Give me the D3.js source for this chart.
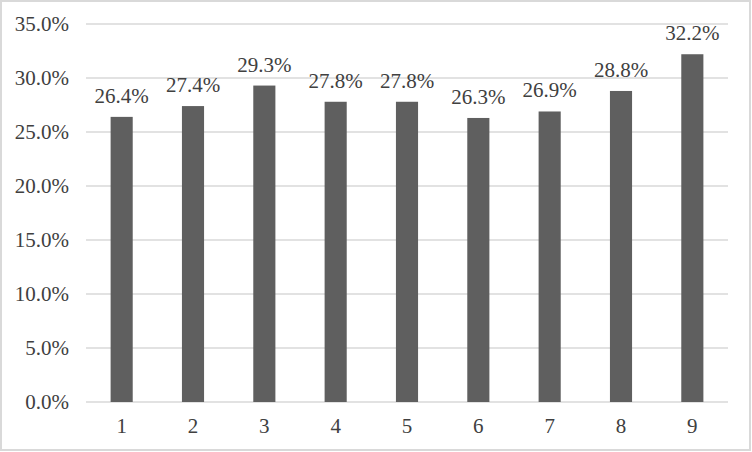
<!DOCTYPE html>
<html><head><meta charset="utf-8">
<script src="https://cdn.jsdelivr.net/npm/d3@7"></script>
<style>html,body{margin:0;padding:0;background:#fff;}</style>
</head><body>
<script>
const categories = ["1","2","3","4","5","6","7","8","9"];
const values = [26.4, 27.4, 29.3, 27.8, 27.8, 26.3, 26.9, 28.8, 32.2];
const yTicks = [0, 5, 10, 15, 20, 25, 30, 35];

const W = 752, H = 452;
const m = {left: 86, right: 24, top: 24, bottom: 50};
const svg = d3.select("body").append("svg").attr("width", W).attr("height", H);
svg.append("rect").attr("x",1).attr("y",1).attr("width",W-3).attr("height",H-3)
  .attr("fill","#fff").attr("stroke","#d9d9d9").attr("stroke-width",2);

const x = d3.scaleBand().domain(categories).range([m.left, W - m.right]).paddingInner(0.69).paddingOuter(0.345);
const y = d3.scaleLinear().domain([0, 35]).range([H - m.bottom, m.top]);
const font = "'Liberation Serif','Times New Roman',serif";
const txt = "#404040";
const fs = 21;

const g = svg.append("g");
g.selectAll("line.grid").data(yTicks).join("line")
  .attr("x1", m.left).attr("x2", W - m.right)
  .attr("y1", d => y(d)).attr("y2", d => y(d))
  .attr("stroke", "#d9d9d9").attr("stroke-width", 1.5);

g.selectAll("text.yt").data(yTicks).join("text")
  .attr("x", 69).attr("y", d => y(d) + 7)
  .attr("text-anchor", "end").attr("font-family", font).attr("font-size", fs)
  .attr("fill", txt).text(d => d.toFixed(1) + "%");

g.selectAll("rect.bar").data(values).join("rect")
  .attr("x", (d,i) => x(categories[i])).attr("width", x.bandwidth())
  .attr("y", d => y(d)).attr("height", d => y(0) - y(d))
  .attr("fill", "#5f5f5f");

g.selectAll("text.lbl").data(values).join("text")
  .attr("x", (d,i) => x(categories[i]) + x.bandwidth()/2)
  .attr("y", d => y(d) - 14)
  .attr("text-anchor", "middle").attr("font-family", font).attr("font-size", fs)
  .attr("fill", txt).text(d => d.toFixed(1) + "%");

g.selectAll("text.xt").data(categories).join("text")
  .attr("x", d => x(d) + x.bandwidth()/2).attr("y", 433)
  .attr("text-anchor", "middle").attr("font-family", font).attr("font-size", fs)
  .attr("fill", txt).text(d => d);
</script>
</body></html>
